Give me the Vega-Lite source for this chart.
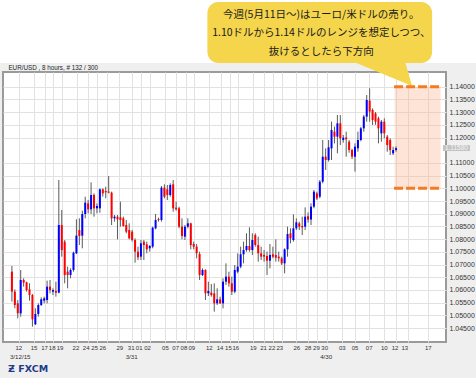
{
  "$schema": "https://vega.github.io/schema/vega-lite/v6.json",
  "width": 443,
  "height": 270,
  "autosize": {"type": "none"},
  "padding": {"left": 3, "top": 72, "right": 30, "bottom": 36},
  "background": "#efefef",
  "config": {
    "view": {"fill": "white", "stroke": "#9a9a9a", "strokeWidth": 2},
    "font": "Liberation Sans"
  },
  "data": {"values": [
    {"i":1,"o":1.06718,"h":1.06941,"l":1.05537,"c":1.05931},
    {"i":2,"o":1.05931,"h":1.06023,"l":1.05275,"c":1.05406},
    {"i":3,"o":1.05471,"h":1.05603,"l":1.04881,"c":1.05078},
    {"i":4,"o":1.05078,"h":1.06784,"l":1.04946,"c":1.06390},
    {"i":5,"o":1.06390,"h":1.06456,"l":1.06128,"c":1.06285},
    {"i":6,"o":1.06298,"h":1.06325,"l":1.05931,"c":1.05996},
    {"i":7,"o":1.06023,"h":1.06259,"l":1.05577,"c":1.05800},
    {"i":8,"o":1.05800,"h":1.05839,"l":1.04553,"c":1.04842},
    {"i":9,"o":1.04645,"h":1.05275,"l":1.04619,"c":1.05051},
    {"i":10,"o":1.05051,"h":1.05471,"l":1.04946,"c":1.05406},
    {"i":11,"o":1.05406,"h":1.05708,"l":1.05366,"c":1.05629},
    {"i":12,"o":1.05577,"h":1.05734,"l":1.05471,"c":1.05668},
    {"i":13,"o":1.05603,"h":1.06364,"l":1.05471,"c":1.06128},
    {"i":14,"o":1.06128,"h":1.06390,"l":1.05865,"c":1.05996},
    {"i":15,"o":1.05931,"h":1.06062,"l":1.05800,"c":1.05996},
    {"i":16,"o":1.05957,"h":1.06325,"l":1.05734,"c":1.05891},
    {"i":17,"o":1.05891,"h":1.10327,"l":1.05865,"c":1.08555},
    {"i":18,"o":1.08555,"h":1.09146,"l":1.07309,"c":1.07571},
    {"i":19,"o":1.07899,"h":1.07965,"l":1.06259,"c":1.06587},
    {"i":20,"o":1.06718,"h":1.06915,"l":1.06062,"c":1.06587},
    {"i":21,"o":1.06587,"h":1.06849,"l":1.06456,"c":1.06784},
    {"i":22,"o":1.06784,"h":1.07506,"l":1.06718,"c":1.07466},
    {"i":23,"o":1.07440,"h":1.08779,"l":1.07414,"c":1.08136},
    {"i":24,"o":1.08359,"h":1.08818,"l":1.07768,"c":1.08122},
    {"i":25,"o":1.08136,"h":1.09120,"l":1.07637,"c":1.08988},
    {"i":26,"o":1.08988,"h":1.09671,"l":1.08818,"c":1.09435},
    {"i":27,"o":1.09408,"h":1.09540,"l":1.09015,"c":1.09172},
    {"i":28,"o":1.09172,"h":1.10235,"l":1.08988,"c":1.09736},
    {"i":29,"o":1.09736,"h":1.09802,"l":1.08883,"c":1.09212},
    {"i":30,"o":1.09212,"h":1.09408,"l":1.09015,"c":1.09303},
    {"i":31,"o":1.09212,"h":1.09999,"l":1.09041,"c":1.09959},
    {"i":32,"o":1.09959,"h":1.09999,"l":1.09671,"c":1.09802},
    {"i":33,"o":1.09894,"h":1.10064,"l":1.09605,"c":1.09841},
    {"i":34,"o":1.09868,"h":1.10484,"l":1.09802,"c":1.09828},
    {"i":35,"o":1.09828,"h":1.09868,"l":1.08555,"c":1.08818},
    {"i":36,"o":1.08818,"h":1.08949,"l":1.08687,"c":1.08883},
    {"i":37,"o":1.08883,"h":1.08949,"l":1.07991,"c":1.08779},
    {"i":38,"o":1.08857,"h":1.09474,"l":1.08490,"c":1.08752},
    {"i":39,"o":1.08818,"h":1.08883,"l":1.08490,"c":1.08516},
    {"i":40,"o":1.08555,"h":1.08752,"l":1.08227,"c":1.08293},
    {"i":41,"o":1.08359,"h":1.08621,"l":1.07991,"c":1.08030},
    {"i":42,"o":1.08293,"h":1.08359,"l":1.07899,"c":1.07965},
    {"i":43,"o":1.07965,"h":1.08030,"l":1.07072,"c":1.07506},
    {"i":44,"o":1.07506,"h":1.07702,"l":1.07177,"c":1.07282},
    {"i":45,"o":1.07309,"h":1.07965,"l":1.07177,"c":1.07834},
    {"i":46,"o":1.07899,"h":1.07965,"l":1.07177,"c":1.07768},
    {"i":47,"o":1.07794,"h":1.07899,"l":1.07440,"c":1.07597},
    {"i":48,"o":1.07637,"h":1.07768,"l":1.07506,"c":1.07729},
    {"i":49,"o":1.07702,"h":1.08490,"l":1.07637,"c":1.08450},
    {"i":50,"o":1.08424,"h":1.08988,"l":1.08385,"c":1.08752},
    {"i":51,"o":1.08792,"h":1.08845,"l":1.08687,"c":1.08752},
    {"i":52,"o":1.08752,"h":1.10091,"l":1.08687,"c":1.10025},
    {"i":53,"o":1.10025,"h":1.10156,"l":1.09605,"c":1.09671},
    {"i":54,"o":1.09959,"h":1.10130,"l":1.09540,"c":1.09736},
    {"i":55,"o":1.09736,"h":1.10196,"l":1.09671,"c":1.10130},
    {"i":56,"o":1.10156,"h":1.10327,"l":1.09080,"c":1.09212},
    {"i":57,"o":1.09238,"h":1.09474,"l":1.09120,"c":1.09172},
    {"i":58,"o":1.09212,"h":1.09277,"l":1.08424,"c":1.08490},
    {"i":59,"o":1.08490,"h":1.08818,"l":1.07991,"c":1.08122},
    {"i":60,"o":1.08096,"h":1.08555,"l":1.07965,"c":1.08490},
    {"i":61,"o":1.08490,"h":1.08818,"l":1.08424,"c":1.08621},
    {"i":62,"o":1.08621,"h":1.08647,"l":1.07597,"c":1.07768},
    {"i":63,"o":1.07808,"h":1.07899,"l":1.07597,"c":1.07702},
    {"i":64,"o":1.07702,"h":1.07808,"l":1.07243,"c":1.07440},
    {"i":65,"o":1.07414,"h":1.07506,"l":1.06390,"c":1.06587},
    {"i":66,"o":1.06587,"h":1.06849,"l":1.06547,"c":1.06784},
    {"i":67,"o":1.06784,"h":1.06810,"l":1.05603,"c":1.05865},
    {"i":68,"o":1.05865,"h":1.06325,"l":1.05760,"c":1.05957},
    {"i":69,"o":1.05891,"h":1.06233,"l":1.05734,"c":1.05800},
    {"i":70,"o":1.05865,"h":1.06259,"l":1.05144,"c":1.05471},
    {"i":71,"o":1.05471,"h":1.06062,"l":1.05406,"c":1.05629},
    {"i":72,"o":1.05629,"h":1.05734,"l":1.05445,"c":1.05471},
    {"i":73,"o":1.05471,"h":1.06456,"l":1.05275,"c":1.06325},
    {"i":74,"o":1.06325,"h":1.07046,"l":1.06194,"c":1.06522},
    {"i":75,"o":1.06522,"h":1.06718,"l":1.06128,"c":1.06259},
    {"i":76,"o":1.06259,"h":1.06522,"l":1.05800,"c":1.05931},
    {"i":77,"o":1.05931,"h":1.06980,"l":1.05865,"c":1.06784},
    {"i":78,"o":1.06718,"h":1.07440,"l":1.06653,"c":1.06915},
    {"i":79,"o":1.06915,"h":1.07702,"l":1.06849,"c":1.07401},
    {"i":80,"o":1.07401,"h":1.07899,"l":1.07046,"c":1.07571},
    {"i":81,"o":1.07571,"h":1.08227,"l":1.07506,"c":1.07729},
    {"i":82,"o":1.07729,"h":1.08464,"l":1.07506,"c":1.07571},
    {"i":83,"o":1.07571,"h":1.08227,"l":1.07375,"c":1.07965},
    {"i":84,"o":1.08162,"h":1.08227,"l":1.07702,"c":1.07768},
    {"i":85,"o":1.07768,"h":1.08096,"l":1.07112,"c":1.07440},
    {"i":86,"o":1.07440,"h":1.07702,"l":1.07177,"c":1.07309},
    {"i":87,"o":1.07375,"h":1.07571,"l":1.07112,"c":1.07309},
    {"i":88,"o":1.07335,"h":1.07506,"l":1.06587,"c":1.07151},
    {"i":89,"o":1.07151,"h":1.07808,"l":1.06849,"c":1.07375},
    {"i":90,"o":1.07401,"h":1.07702,"l":1.07243,"c":1.07309},
    {"i":91,"o":1.07375,"h":1.07991,"l":1.07112,"c":1.07269},
    {"i":92,"o":1.07309,"h":1.07506,"l":1.07112,"c":1.07243},
    {"i":93,"o":1.07243,"h":1.07309,"l":1.06980,"c":1.07046},
    {"i":94,"o":1.07046,"h":1.07637,"l":1.06653,"c":1.07597},
    {"i":95,"o":1.07597,"h":1.08490,"l":1.07309,"c":1.08201},
    {"i":96,"o":1.08227,"h":1.08424,"l":1.07834,"c":1.08030},
    {"i":97,"o":1.07965,"h":1.08975,"l":1.07899,"c":1.08424},
    {"i":98,"o":1.08424,"h":1.08818,"l":1.08359,"c":1.08661},
    {"i":99,"o":1.08621,"h":1.08687,"l":1.08359,"c":1.08490},
    {"i":100,"o":1.08516,"h":1.08883,"l":1.08162,"c":1.08464},
    {"i":101,"o":1.08490,"h":1.09251,"l":1.08359,"c":1.08883},
    {"i":102,"o":1.08900,"h":1.09050,"l":1.08650,"c":1.08770},
    {"i":103,"o":1.08770,"h":1.09409,"l":1.08555,"c":1.09277},
    {"i":104,"o":1.09277,"h":1.09933,"l":1.09212,"c":1.09867},
    {"i":105,"o":1.09802,"h":1.09867,"l":1.09540,"c":1.09605},
    {"i":106,"o":1.09671,"h":1.10327,"l":1.09605,"c":1.10261},
    {"i":107,"o":1.10261,"h":1.11901,"l":1.10196,"c":1.11245},
    {"i":108,"o":1.11245,"h":1.11573,"l":1.10721,"c":1.11114},
    {"i":109,"o":1.11114,"h":1.11901,"l":1.11049,"c":1.11613},
    {"i":110,"o":1.11573,"h":1.12623,"l":1.11114,"c":1.12295},
    {"i":111,"o":1.12230,"h":1.12427,"l":1.11770,"c":1.12033},
    {"i":112,"o":1.12033,"h":1.12886,"l":1.11377,"c":1.12558},
    {"i":113,"o":1.12558,"h":1.12886,"l":1.11705,"c":1.11967},
    {"i":114,"o":1.11902,"h":1.12100,"l":1.11800,"c":1.11993},
    {"i":115,"o":1.12000,"h":1.12230,"l":1.11245,"c":1.11930},
    {"i":116,"o":1.11836,"h":1.11900,"l":1.11400,"c":1.11508},
    {"i":117,"o":1.11508,"h":1.11560,"l":1.11150,"c":1.11245},
    {"i":118,"o":1.11245,"h":1.11770,"l":1.10655,"c":1.11639},
    {"i":119,"o":1.11574,"h":1.12230,"l":1.11442,"c":1.11902},
    {"i":120,"o":1.11902,"h":1.12420,"l":1.11850,"c":1.12361},
    {"i":121,"o":1.12361,"h":1.12886,"l":1.12230,"c":1.12820},
    {"i":122,"o":1.12820,"h":1.13673,"l":1.12624,"c":1.13476},
    {"i":123,"o":1.13450,"h":1.13936,"l":1.12624,"c":1.13020},
    {"i":124,"o":1.13083,"h":1.13148,"l":1.12492,"c":1.12689},
    {"i":125,"o":1.12951,"h":1.13000,"l":1.12500,"c":1.12623},
    {"i":126,"o":1.12755,"h":1.12820,"l":1.11770,"c":1.12361},
    {"i":127,"o":1.12164,"h":1.12689,"l":1.11836,"c":1.12623},
    {"i":128,"o":1.12623,"h":1.12755,"l":1.11967,"c":1.12164},
    {"i":129,"o":1.12033,"h":1.12098,"l":1.11442,"c":1.11705},
    {"i":130,"o":1.11902,"h":1.11967,"l":1.11311,"c":1.11508},
    {"i":131,"o":1.11377,"h":1.11639,"l":1.11311,"c":1.11508},
    {"i":132,"o":1.11508,"h":1.11650,"l":1.11442,"c":1.11580}
  ]},
  "resolve": {"axis": {"x": "independent", "y": "independent"}},
  "layer": [
    {
      "data": {"values": [{}]},
      "mark": {"type": "rect", "fill": "white", "clip": false},
      "encoding": {
        "x": {"datum": -5, "type": "quantitative", "axis": null},
        "x2": {"datum": 160},
        "y": {"datum": 1.185, "type": "quantitative", "axis": null},
        "y2": {"datum": 1.1493}
      }
    },
    {
      "data": {"values": [{}]},
      "mark": {"type": "text", "text": "EUR/USD , 8 hours, # 132 / 300", "fontSize": 6.3, "fill": "#222222", "align": "left", "baseline": "middle", "clip": false},
      "encoding": {
        "x": {"datum": -0.2, "type": "quantitative", "axis": null},
        "y": {"datum": 1.14736, "type": "quantitative", "axis": null}
      }
    },
    {
      "data": {"values": [{}]},
      "mark": {"type": "rect", "fill": "#f4d54b", "cornerRadius": 11, "clip": false},
      "encoding": {
        "x": {"datum": 67.67, "type": "quantitative", "axis": null},
        "x2": {"datum": 144.3},
        "y": {"datum": 1.17335, "type": "quantitative", "axis": null},
        "y2": {"datum": 1.14933}
      }
    },
    {
      "data": {"values": [{}]},
      "mark": {"type": "point", "shape": "M-1.5,0L0.35,0L0.6,0.8667Z", "size": 3600, "filled": true, "fill": "#f4d54b", "opacity": 1, "strokeWidth": 0, "clip": false},
      "encoding": {
        "x": {"datum": 131.33, "type": "quantitative", "axis": null},
        "y": {"datum": 1.15051, "type": "quantitative", "axis": null}
      }
    },
    {
      "data": {"values": [{}]},
      "mark": {"type": "rect", "fill": "#f9b38a", "opacity": 0.35},
      "encoding": {
        "x": {"datum": 131.5, "type": "quantitative", "scale": {"domain": [-0.3333, 147.3333], "nice": false, "zero": false},
          "axis": {"orient": "bottom", "values": [3.67, 41.67, 108], "labelExpr": "['3/12/15','3/31','4/30'][indexof([3.67,41.67,108], datum.value)]", "grid": false, "ticks": false, "domain": false, "offset": 9, "labelFontSize": 6.2, "labelColor": "#333333", "labelPadding": 2, "labelOverlap": false, "labelFlush": false, "labelBound": false, "title": null}},
        "x2": {"datum": 147.2},
        "y": {"datum": 1.14, "type": "quantitative", "axis": null},
        "y2": {"datum": 1.10}
      }
    },
    {
      "data": {"values": [{"level": 1.14}, {"level": 1.10}]},
      "mark": {"type": "rule", "stroke": "#f47b20", "strokeWidth": 3, "strokeDash": [9, 3]},
      "encoding": {
        "x": {"datum": 131.33, "type": "quantitative", "axis": null},
        "x2": {"datum": 147.1},
        "y": {"field": "level", "type": "quantitative", "axis": null}
      }
    },
    {
      "mark": {"type": "rule", "stroke": "#5a5a5a", "strokeWidth": 1},
      "encoding": {
        "x": {"field": "i", "type": "quantitative", "scale": {"domain": [-0.3333, 147.3333], "nice": false, "zero": false},
          "axis": {"values": [3.33, 8.43, 12.23, 15.1, 18.1, 23.33, 27, 30.1, 33.33, 37.57, 42, 45.1, 48.1, 53.33, 57, 60.33, 63, 68.33, 72.33, 75.33, 78, 83.33, 87, 90, 93, 98, 102, 105, 108.33, 113.67, 118, 122.67, 128, 132, 136, 143], "labels": false, "ticks": false, "domain": false, "grid": true, "gridColor": "#e2e2e2", "gridWidth": 1, "title": null}},
        "y": {"field": "l", "type": "quantitative", "scale": {"domain": [1.03949, 1.14579], "nice": false, "zero": false},
          "axis": {"orient": "right", "values": [1.045, 1.05, 1.055, 1.06, 1.065, 1.07, 1.075, 1.08, 1.085, 1.09, 1.095, 1.10, 1.105, 1.11, 1.12, 1.125, 1.13, 1.135, 1.14], "format": ".5f", "ticks": false, "domain": false, "grid": true, "gridColor": "#e2e2e2", "gridWidth": 1, "labelFontSize": 7, "labelColor": "#333333", "labelPadding": 3, "title": null}},
        "y2": {"field": "h"}
      }
    },
    {
      "mark": {"type": "bar", "size": 2},
      "encoding": {
        "x": {"field": "i", "type": "quantitative",
          "axis": {"orient": "bottom", "values": [3.17, 8.4, 11.97, 14.57, 17.23, 22.67, 26.17, 29.07, 31.83, 37.63, 41.5, 44.23, 47.07, 53.17, 56.67, 59.5, 62.17, 68.17, 71.83, 74.67, 77.17, 83.17, 86.67, 89.5, 92.17, 98, 101.83, 104.67, 107.5, 113.5, 117.83, 122.67, 127.83, 131.5, 134.83, 142.83],
            "labelExpr": "['12','15','17','18','19','22','24','25','26','29','31','01','02','05','07','08','09','12','14','15','16','19','21','22','23','26','28','29','30','03','05','07','10','12','13','17'][indexof([3.17, 8.4, 11.97, 14.57, 17.23, 22.67, 26.17, 29.07, 31.83, 37.63, 41.5, 44.23, 47.07, 53.17, 56.67, 59.5, 62.17, 68.17, 71.83, 74.67, 77.17, 83.17, 86.67, 89.5, 92.17, 98, 101.83, 104.67, 107.5, 113.5, 117.83, 122.67, 127.83, 131.5, 134.83, 142.83], datum.value)]",
            "grid": false, "ticks": false, "domain": false, "labelFontSize": 6, "labelColor": "#333333", "labelPadding": 2, "labelOverlap": false, "labelFlush": false, "labelBound": false, "title": null}},
        "y": {"field": "o", "type": "quantitative", "axis": null},
        "y2": {"field": "c"},
        "color": {"condition": {"test": "datum.c >= datum.o", "value": "#0000ff"}, "value": "#ff0000"}
      }
    },
    {
      "data": {"values": [{}]},
      "mark": {"type": "rect", "fill": "#c4c4c4", "clip": false},
      "encoding": {
        "x": {"datum": 148, "type": "quantitative", "axis": null},
        "x2": {"datum": 157.2},
        "y": {"datum": 1.11704, "type": "quantitative", "axis": null},
        "y2": {"datum": 1.11467}
      }
    },
    {
      "data": {"values": [{}]},
      "mark": {"type": "text", "text": "1.11580", "fontSize": 6.5, "fill": "#f4f4f4", "align": "center", "baseline": "middle", "clip": false},
      "encoding": {
        "x": {"datum": 152.6, "type": "quantitative", "axis": null},
        "y": {"datum": 1.11585, "type": "quantitative", "axis": null}
      }
    },
    {
      "data": {"values": [{}]},
      "mark": {"type": "text", "text": "今週(5月11日～)はユーロ/米ドルの売り。\n1.10ドルから1.14ドルのレンジを想定しつつ、\n抜けるとしたら下方向", "lineBreak": "\n", "lineHeight": 18.5, "font": "Noto Sans CJK JP", "fontSize": 10.5, "fill": "#1a1a1a", "align": "center", "baseline": "top", "clip": false},
      "encoding": {
        "x": {"datum": 106.5, "type": "quantitative", "axis": null},
        "y": {"datum": 1.17039, "type": "quantitative", "axis": null}
      }
    },
    {
      "data": {"values": [{}]},
      "mark": {"type": "text", "text": "Ƶ FXCM", "font": "DejaVu Sans", "fontSize": 9.5, "fontWeight": "bold", "fill": "#1e3a8a", "align": "left", "baseline": "middle", "clip": false},
      "encoding": {
        "x": {"datum": -0.33, "type": "quantitative", "axis": null},
        "y": {"datum": 1.02886, "type": "quantitative", "axis": null}
      }
    }
  ]
}
